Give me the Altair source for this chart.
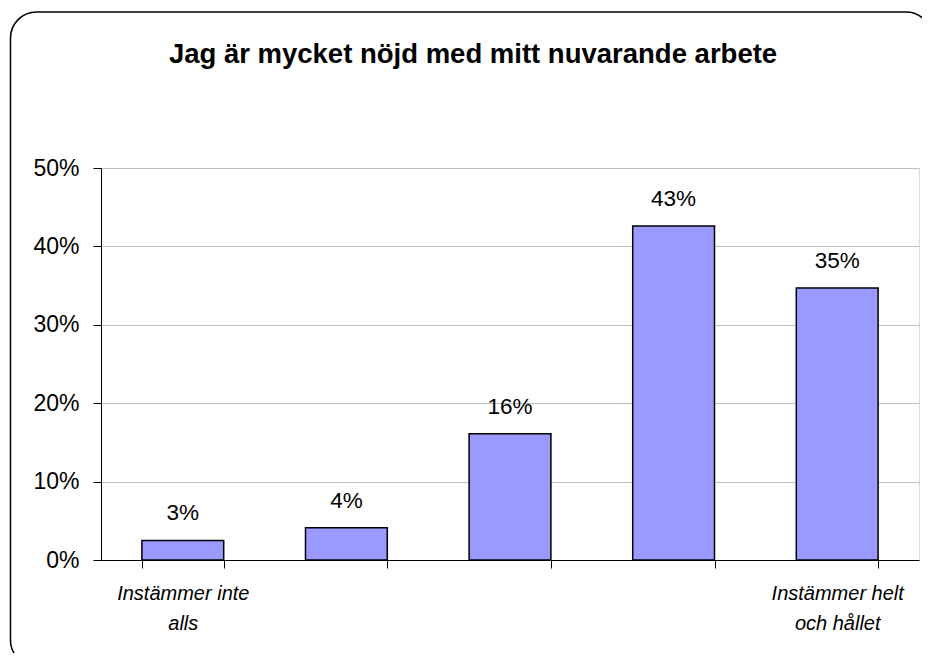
import json
import altair as alt
import pandas as pd

# ---- data ----
categories = ["1", "2", "3", "4", "5"]
values = [0.025, 0.041, 0.161, 0.426, 0.347]
value_labels = ["3%", "4%", "16%", "43%", "35%"]
x_labels = [["Instämmer inte", "alls"], [""], [""], [""], ["Instämmer helt", "och hållet"]]
title_text = ["Jag är mycket nöjd med mitt nuvarande arbete"]
y_ticks = [0, 0.1, 0.2, 0.3, 0.4, 0.5]

df = pd.DataFrame({"cat": categories, "val": values, "lab": value_labels})

FONT = "Liberation Sans"
PLOT_W, PLOT_H = 818, 392

label_map = {c: l for c, l in zip(categories, x_labels)}
label_expr = f"{json.dumps(label_map, ensure_ascii=False)}[datum.value]"

x_enc = alt.X(
    "cat:N",
    sort=categories,
    scale=alt.Scale(domain=categories, paddingInner=0.5, paddingOuter=0.25),
    axis=alt.Axis(
        title=None,
        labelAngle=0,
        labelExpr=label_expr,
        labelFont=FONT,
        labelFontSize=20,
        labelFontStyle="italic",
        labelColor="black",
        labelBaseline="top",
        labelLineHeight=30,
        labelPadding=15,
        tickBand="extent",
        tickSize=8,
        tickColor="black",
        domainColor="black",
        labelOverlap=False,
        labelBound=False,
        grid=False,
    ),
)

y_enc = alt.Y(
    "val:Q",
    scale=alt.Scale(domain=[0, 0.5], nice=False, zero=True),
    axis=alt.Axis(
        title=None,
        values=y_ticks,
        format=".0%",
        labelFont=FONT,
        labelFontSize=23,
        labelColor="black",
        labelPadding=14,
        tickSize=8,
        tickColor="black",
        domainColor="black",
        gridColor="#C0C0C0",
        gridWidth=1,
    ),
)

bars = alt.Chart(df).mark_bar(
    color="#9999FF", stroke="black", strokeWidth=1.5
).encode(x=x_enc, y=y_enc)

texts = alt.Chart(df).mark_text(
    dy=-20, baseline="alphabetic", fontSize=22.5, font=FONT, color="black"
).encode(x=alt.X("cat:N", sort=categories), y="val:Q", text="lab:N")

frame = alt.Chart(pd.DataFrame({"k": [0]})).mark_rect(
    cornerRadius=26, fill="transparent", stroke="black", strokeWidth=1.5
).encode(
    x=alt.value(-90.5), x2=alt.value(831), y=alt.value(-156), y2=alt.value(498)
)

title = alt.Chart(pd.DataFrame({"t": title_text})).mark_text(
    font=FONT, fontSize=27.5, fontWeight="bold", color="black",
    align="center", baseline="alphabetic"
).encode(x=alt.value(372), y=alt.value(-105), text="t:N")

chart = alt.layer(frame, bars, texts, title).properties(
    width=PLOT_W,
    height=PLOT_H,
    autosize=alt.AutoSizeParams(type="none"),
    padding={"left": 93, "top": 160, "right": 3, "bottom": 93},
).configure_view(stroke="#C0C0C0").configure(background="white")

chart.save("out.html", embed_options={"renderer": "svg", "actions": False})
